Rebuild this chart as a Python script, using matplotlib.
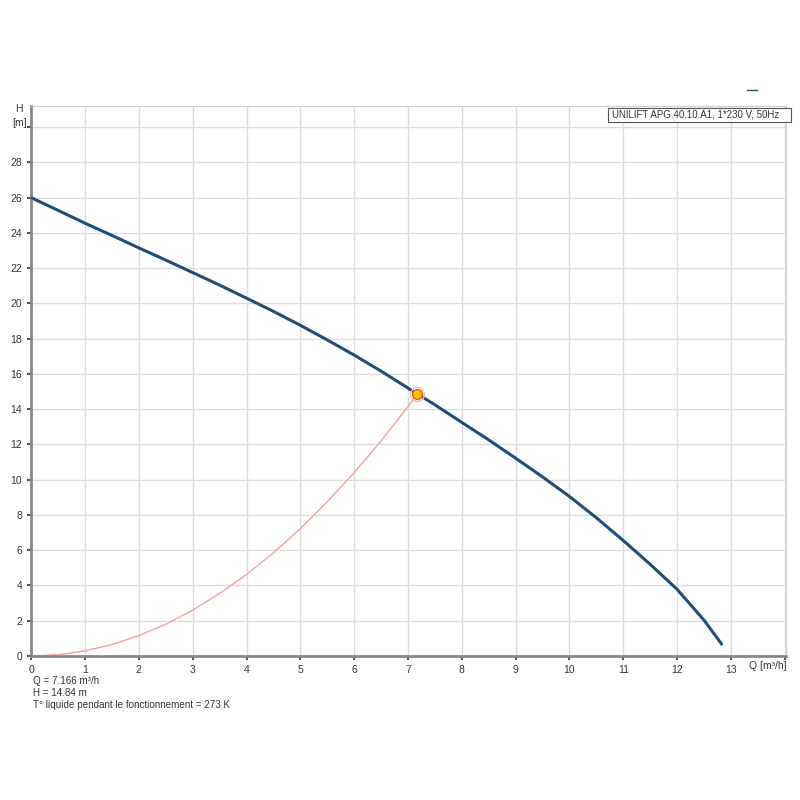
import matplotlib.pyplot as plt
from matplotlib.patches import Rectangle

plt.rcParams['font.family'] = ['Liberation Sans', 'DejaVu Sans']

# pump curve (blue)
q_pump = [0, 0.5, 1, 1.5, 2, 2.5, 3, 3.5, 4, 4.5, 5, 5.5, 6, 6.5, 7, 7.5,
          8, 8.5, 9, 9.5, 10, 10.5, 11, 11.5, 12, 12.5, 12.84]
h_pump = [26.0, 25.28, 24.55, 23.86, 23.15, 22.46, 21.75, 21.04, 20.3, 19.55, 18.76, 17.93,
          17.07, 16.16, 15.2, 14.25, 13.25, 12.26, 11.22, 10.16, 9.05, 7.84, 6.55, 5.2,
          3.78, 2.03, 0.62]

# system curve (red)
q_sys = [0, 0.5, 1, 1.5, 2, 2.5, 3, 3.5, 4, 4.5, 5, 5.5, 6, 6.5, 7, 7.166]
h_sys = [0, 0.07, 0.29, 0.65, 1.16, 1.8, 2.6, 3.55, 4.62, 5.85, 7.22, 8.75, 10.4, 12.2, 14.15, 14.84]

duty_q = 7.166
duty_h = 14.84

xticks = list(range(0, 14))
yticks = list(range(0, 30, 2))

fig = plt.figure(figsize=(8, 8), dpi=100)
ax = fig.add_axes([0.039, 0.18, 0.944, 0.6875])

ax.plot(q_pump, h_pump, color='#1f4e79', lw=2.2, zorder=3, solid_capstyle='butt')
ax.plot(q_sys, h_sys, color='#f4a0a0', lw=1.0, zorder=2)
ax.plot([duty_q], [duty_h], 'o', ms=10, mfc='none', mec='#f8b8b8', mew=1, zorder=4)
ax.plot([duty_q], [duty_h], 'o', ms=7, mfc='#ffc000', mec='#e06020', mew=1, zorder=5)

ax.set_xlim(0, 14.03)
ax.set_ylim(0, 31.2)
ax.set_xticks(xticks + [14])
ax.set_xticklabels([str(t) for t in xticks] + [''])
ax.set_yticks(yticks + [30])
ax.set_yticklabels([str(t) for t in yticks] + [''])
ax.grid(True, color='#dcdcdc', lw=1)
ax.set_axisbelow(True)
ax.tick_params(labelsize=7.5, colors='#555555', labelcolor='#333333', length=3, width=1.5)

for s in ['top', 'right']:
    ax.spines[s].set_color('#cccccc')
for s in ['left', 'bottom']:
    ax.spines[s].set_color('#888888')
    ax.spines[s].set_linewidth(2)

fig.text(0.024, 0.86, 'H', fontsize=7.5, color='#333333', ha='center')
fig.text(0.024, 0.843, '[m]', fontsize=7.5, color='#333333', ha='center')
fig.text(0.936, 0.164, 'Q [m³/h]', fontsize=7.5, color='#333333', ha='left')

# title box
fig.patches.append(Rectangle((0.76, 0.8475), 0.2288, 0.018, transform=fig.transFigure,
                             fc='white', ec='#555555', lw=0.8, zorder=10))
fig.text(0.765, 0.8565, 'UNILIFT APG.40.10.A1, 1*230 V, 50Hz', ha='left', va='center',
         fontsize=7.0, color='#333333', zorder=11)

fig.text(0.041, 0.145, 'Q = 7.166 m³/h', fontsize=7.1, color='#333333')
fig.text(0.041, 0.130, 'H = 14.84 m', fontsize=7.1, color='#333333')
fig.text(0.041, 0.115, 'T° liquide pendant le fonctionnement = 273 K', fontsize=7.1, color='#333333')

fig.lines.append(plt.Line2D([0.934, 0.946], [0.887, 0.887], transform=fig.transFigure,
                            color='#1f4e79', lw=1))

plt.savefig('out.png')
